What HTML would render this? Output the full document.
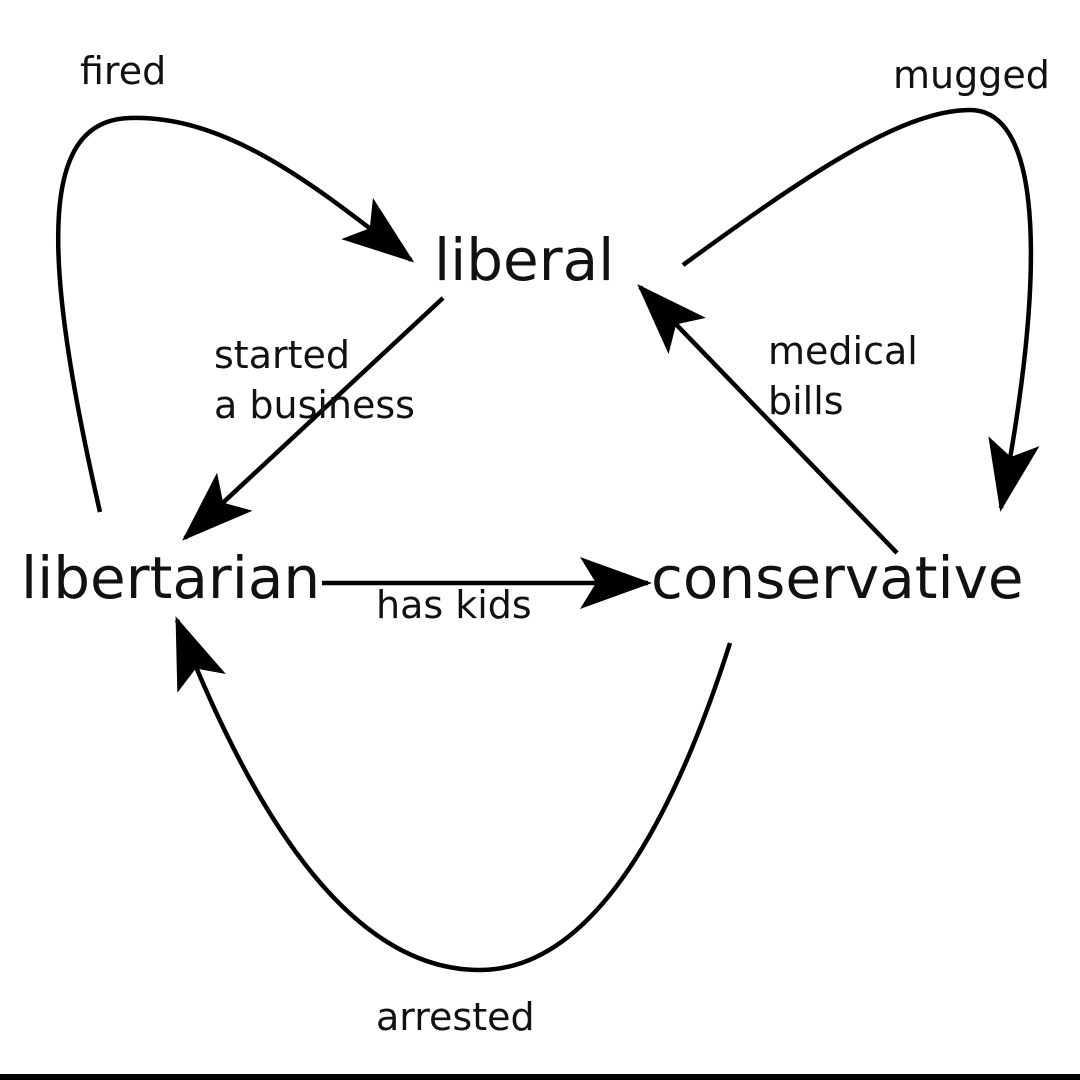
<!DOCTYPE html>
<html><head><meta charset="utf-8"><style>
html,body{margin:0;padding:0;background:#fff;}
svg{display:block}
text{font-family:"DejaVu Sans","Liberation Sans",sans-serif;fill:#111}
</style></head><body>
<svg width="1080" height="1080" viewBox="0 0 1080 1080" xmlns="http://www.w3.org/2000/svg">
<defs>
<marker id="ah" markerUnits="userSpaceOnUse" markerWidth="80" markerHeight="60" refX="68" refY="26" orient="auto">
<path d="M72,26 L0,0 L16,26 L0,52 Z" fill="#000"/>
</marker>
</defs>
<rect x="0" y="0" width="1080" height="1080" fill="#fff"/>
<g fill="none" stroke="#000" stroke-width="4.5">
<path d="M100,512 C40,250 40,120 130,118 C230,115 320,190 411,260" marker-end="url(#ah)"/>
<path d="M683,265 C800,180 900,110 970,110 C1045,110 1045,280 1001,508" marker-end="url(#ah)"/>
<path d="M443,298 L185,538" marker-end="url(#ah)"/>
<path d="M897,553 L640,287" marker-end="url(#ah)"/>
<path d="M322,583 L648,583" marker-end="url(#ah)"/>
<path d="M730,643 C680,800 600,970 480,970 C370,970 270,860 177,620" marker-end="url(#ah)"/>
</g>
<text x="434" y="280" font-size="58">liberal</text>
<text x="21" y="598" font-size="58">libertarian</text>
<text x="651" y="598" font-size="58">conservative</text>
<text x="80" y="84" font-size="38">fired</text>
<text x="893" y="88" font-size="38">mugged</text>
<text x="214" y="368" font-size="38">started</text>
<text x="214" y="418" font-size="38">a business</text>
<text x="768" y="364" font-size="38">medical</text>
<text x="768" y="414" font-size="38">bills</text>
<text x="376" y="618" font-size="38">has kids</text>
<text x="376" y="1030" font-size="38">arrested</text>
<rect x="0" y="1074" width="1080" height="6" fill="#000"/>
</svg>
</body></html>
